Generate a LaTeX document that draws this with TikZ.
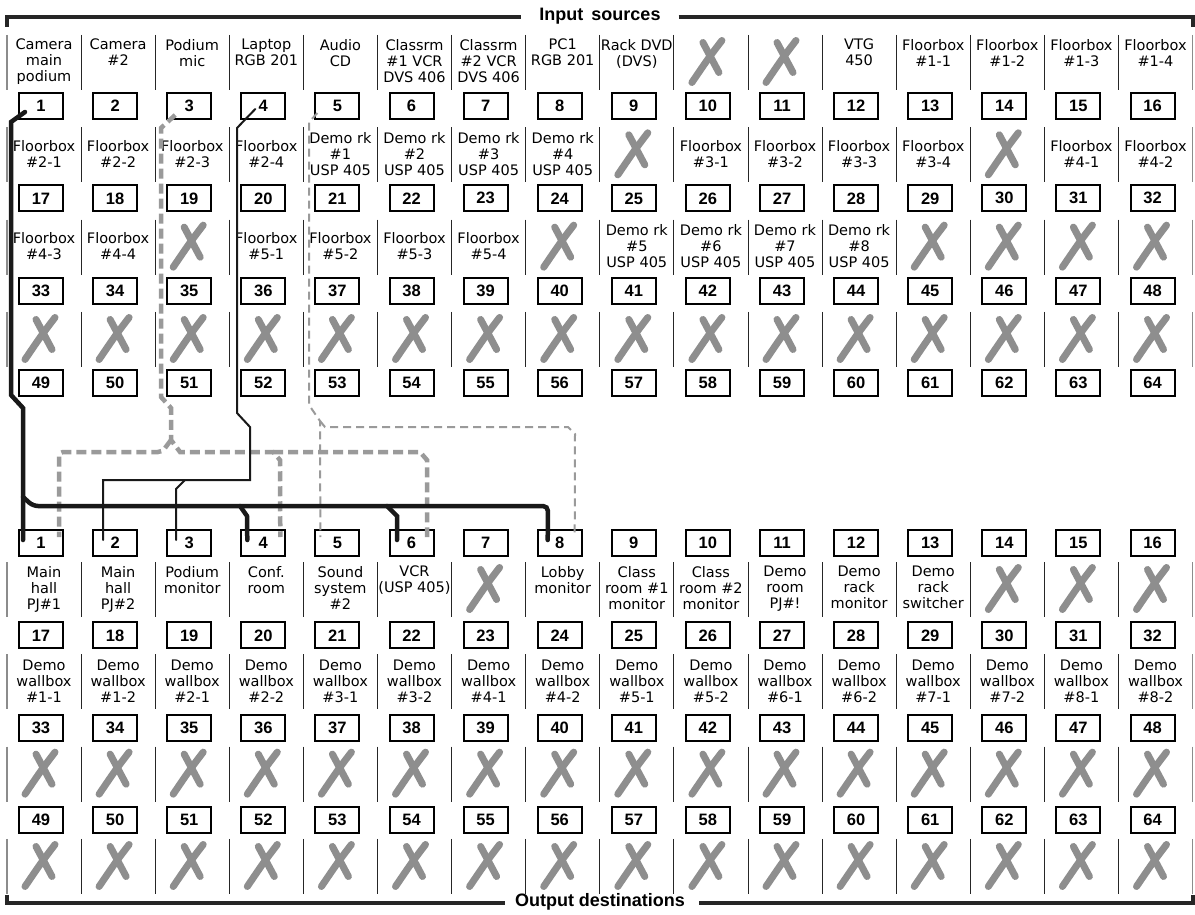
\documentclass[tikz,border=0pt]{standalone}
\usepackage{fontspec}
\setmainfont{DejaVu Sans}
\newfontfamily\numfont{Liberation Sans}
\usetikzlibrary{calc}
\definecolor{xgray}{HTML}{8E8E8E}
\definecolor{wgray}{HTML}{9A9A9A}
\tikzset{
  numbox/.style={draw=black, line width=2pt, minimum width=44pt, minimum height=26pt, inner sep=0pt, font=\numfont\bfseries\fontsize{16.5}{16.5}\selectfont},
  lab/.style={align=center, inner sep=0pt, font=\fontsize{14.5}{16}\selectfont},
  divider/.style={line width=1pt, draw=black!85},
  edgediv/.style={line width=1.6pt, draw=black!45},
  xstroke/.style={line width=7pt, line cap=round, draw=xgray},
  bracket/.style={line width=3.2pt, draw=black!85},
  heading/.style={font=\numfont\bfseries\fontsize{18}{18}\selectfont, inner sep=0pt},
  wire/.style={line width=4.5pt, line cap=round, draw=black!90},
  thinwire/.style={line width=2pt, line cap=round, draw=black!90},
  gwire/.style={line width=4.5pt, draw=wgray, dash pattern=on 10pt off 5pt},
  thingwire/.style={line width=2pt, draw=wgray, dash pattern=on 8pt off 5pt},
}
\newcommand\drawcross[2]{%
  \draw[xstroke] ({#1+11},{#2-22}) .. controls ({#1-2},{#2-5}) .. ({#1-19},{#2+20});
  \draw[xstroke] ({#1-8},{#2-20}) -- ({#1+8},{#2+10});
}
\begin{document}
\begin{tikzpicture}[x=1pt,y=-1pt]
\fill[white] (0,0) rectangle (1195,915);
\useasboundingbox (0,0) rectangle (1195,915);

% headings and brackets
\node[heading] (insrc) at (600,16) {Input\ \,sources};
\draw[bracket] (7,27) |- ([xshift=-18pt,yshift=-1pt]insrc.west);
\draw[bracket] ([xshift=18pt,yshift=-1pt]insrc.east) -| (1193,27);
\node[heading] (outdst) at (600,902) {Output destinations};
\draw[bracket] (7,895) |- ([xshift=-10pt,yshift=-1pt]outdst.west);
\draw[bracket] ([xshift=14pt,yshift=-1pt]outdst.east) -| (1193,895);

% dividers
\foreach \r in {0,...,3}{
  \foreach \k in {1,...,15}{
    \draw[divider] ({7+74.1*\k},{35+92.33*\r}) -- ({7+74.1*\k},{90+92.33*\r});
    \draw[divider] ({7+74.1*\k},{562+92.33*\r}) -- ({7+74.1*\k},{617+92.33*\r});
  }
  \foreach \k in {0,16}{
    \draw[edgediv] ({7+74.1*\k},{35+92.33*\r}) -- ({7+74.1*\k},{90+92.33*\r});
    \draw[edgediv] ({7+74.1*\k},{562+92.33*\r}) -- ({7+74.1*\k},{617+92.33*\r});
  }
}

% number boxes
\foreach \i in {1,...,64}{
  \pgfmathtruncatemacro\r{div(\i-1,16)}
  \pgfmathtruncatemacro\c{mod(\i-1,16)}
  \node[numbox] (in\i) at ({41+74.1*\c},{106+92.33*\r}) {\i};
  \node[numbox] (out\i) at ({41+74.1*\c},{543+92.33*\r}) {\i};
}

% input labels
\foreach \i/\t in {1/{Camera\\main\\podium},2/{Camera\\\#2},3/{Podium\\mic},4/{Laptop\\RGB 201},5/{Audio\\CD},
  6/{Classrm\\\#1 VCR\\DVS 406},7/{Classrm\\\#2 VCR\\DVS 406},8/{PC1\\RGB 201},9/{Rack DVD\\(DVS)},12/{VTG\\450},
  13/{Floorbox\\\#1-1},14/{Floorbox\\\#1-2},15/{Floorbox\\\#1-3},16/{Floorbox\\\#1-4},
  17/{Floorbox\\\#2-1},18/{Floorbox\\\#2-2},19/{Floorbox\\\#2-3},20/{Floorbox\\\#2-4},
  21/{Demo rk\\\#1\\USP 405},22/{Demo rk\\\#2\\USP 405},23/{Demo rk\\\#3\\USP 405},24/{Demo rk\\\#4\\USP 405},
  26/{Floorbox\\\#3-1},27/{Floorbox\\\#3-2},28/{Floorbox\\\#3-3},29/{Floorbox\\\#3-4},
  31/{Floorbox\\\#4-1},32/{Floorbox\\\#4-2},33/{Floorbox\\\#4-3},34/{Floorbox\\\#4-4},
  36/{Floorbox\\\#5-1},37/{Floorbox\\\#5-2},38/{Floorbox\\\#5-3},39/{Floorbox\\\#5-4},
  41/{Demo rk\\\#5\\USP 405},42/{Demo rk\\\#6\\USP 405},43/{Demo rk\\\#7\\USP 405},44/{Demo rk\\\#8\\USP 405}}{
  \pgfmathtruncatemacro\r{div(\i-1,16)}
  \pgfmathtruncatemacro\c{mod(\i-1,16)}
  \ifnum\r=0
    \node[lab, anchor=north] (inlab\i) at ({44+74.1*\c},39) {\t};
  \else
    \node[lab] (inlab\i) at ({44+74.1*\c},{61.5+92.33*\r}) {\t};
  \fi
}
\foreach \i in {10,11,25,30,35,40,45,46,47,48,49,50,51,52,53,54,55,56,57,58,59,60,61,62,63,64}{
  \pgfmathsetmacro\r{div(\i-1,16)}
  \pgfmathsetmacro\c{mod(\i-1,16)}
  \pgfmathsetmacro\xx{44+74.1*\c}
  \pgfmathsetmacro\yy{62.5+92.33*\r}
  \drawcross{\xx}{\yy}
}

% output labels
\foreach \i/\t in {1/{Main\\hall\\PJ\#1},2/{Main\\hall\\PJ\#2},3/{Podium\\monitor},4/{Conf.\\room},
  5/{Sound\\system\\\#2},6/{VCR\\(USP 405)},8/{Lobby\\monitor},9/{Class\\room \#1\\monitor},
  10/{Class\\room \#2\\monitor},11/{Demo\\room\\PJ\#!},12/{Demo\\rack\\monitor},13/{Demo\\rack\\switcher},
  17/{Demo\\wallbox\\\#1-1},18/{Demo\\wallbox\\\#1-2},19/{Demo\\wallbox\\\#2-1},20/{Demo\\wallbox\\\#2-2},
  21/{Demo\\wallbox\\\#3-1},22/{Demo\\wallbox\\\#3-2},23/{Demo\\wallbox\\\#4-1},24/{Demo\\wallbox\\\#4-2},
  25/{Demo\\wallbox\\\#5-1},26/{Demo\\wallbox\\\#5-2},27/{Demo\\wallbox\\\#6-1},28/{Demo\\wallbox\\\#6-2},
  29/{Demo\\wallbox\\\#7-1},30/{Demo\\wallbox\\\#7-2},31/{Demo\\wallbox\\\#8-1},32/{Demo\\wallbox\\\#8-2}}{
  \pgfmathtruncatemacro\r{div(\i-1,16)}
  \pgfmathtruncatemacro\c{mod(\i-1,16)}
  \ifnum\r=0
    \node[lab, anchor=north] (outlab\i) at ({44+74.1*\c},566) {\t};
  \else
    \node[lab] (outlab\i) at ({44+74.1*\c},{588.5+92.33*\r}) {\t};
  \fi
}
\foreach \i in {7,14,15,16,33,34,35,36,37,38,39,40,41,42,43,44,45,46,47,48,49,50,51,52,53,54,55,56,57,58,59,60,61,62,63,64}{
  \pgfmathsetmacro\r{div(\i-1,16)}
  \pgfmathsetmacro\c{mod(\i-1,16)}
  \pgfmathsetmacro\xx{44+74.1*\c}
  \pgfmathsetmacro\yy{589.5+92.33*\r}
  \drawcross{\xx}{\yy}
}

% connectors: thick grey dashed (input 3 -> outputs 1, 4, 6)
\draw[gwire] ($(in3)+(-14,9)$) -- (161,128) -- (161,397) -- (171,408) -- (171,440) -- (180,452) -- (273,452) -- (280,460) -- ($(out4)+(17,-6)$);
\draw[gwire, rounded corners=4pt] (171,440) -- (162,452) -- (59,452) -- ($(out1)+(18,-6)$);
\draw[gwire] (273,452) -- (420,452) -- (427,460) -- ($(out6)+(15.5,-6)$);

% thin grey dashed (input 5 -> outputs 5, 8)
\draw[thingwire] ($(in5)+(-20,7)$) -- (309,122) -- (309,405) -- (320,421) -- ($(out5)+(-17,-6)$);
\draw[thingwire] (320,421) -- (325,427) -- (568,427) -- (575,434) -- ($(out8)+(15,-6)$);

% thin black (input 4 -> outputs 2, 3)
\draw[thinwire] ($(in4)+(-8,3)$) -- (237,128) -- (237,413) -- (250,427) -- (250,480) -- (103,480) -- ($(out2)+(-12,-3)$);
\draw[thinwire] (185,480) -- (176,489) -- ($(out3)+(-13,-3)$);

% thick black (input 1 -> outputs 1, 4, 6, 8)
\draw[wire] ($(in1)+(-16,6)$) -- (11,122) -- (11,395) -- (23,408) -- ($(out1)+(-18,-3)$);
\draw[wire, rounded corners=5pt] (23,497) -- (33,506) -- (548,506) -- ($(out8)+(-12,-3)$);
\draw[wire] (240,506) -- (247,516) -- ($(out4)+(-16,-3)$);
\draw[wire] (387,506) -- (397,516) -- ($(out6)+(-14.5,-3)$);
\end{tikzpicture}
\end{document}
